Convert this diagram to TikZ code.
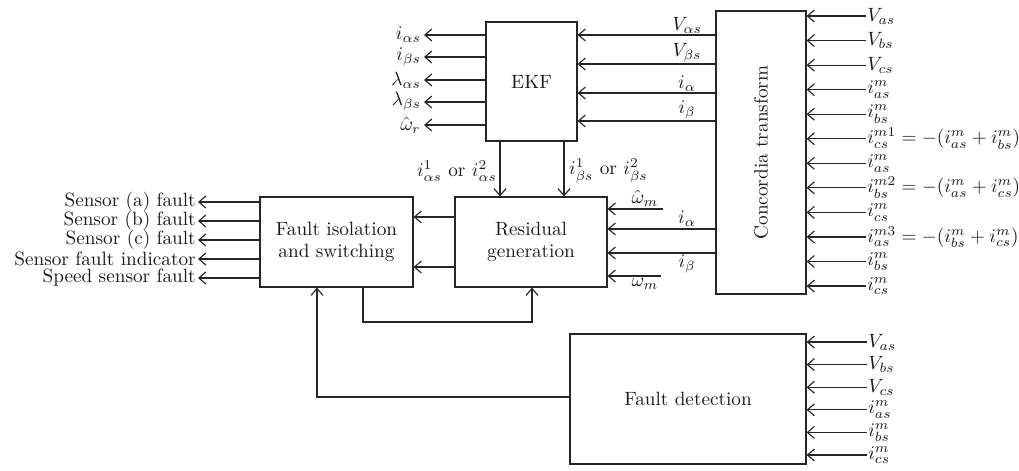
\documentclass[tikz,border=0pt]{standalone}
\usetikzlibrary{arrows.meta}
\begin{document}
\begin{tikzpicture}[x=0.52pt,y=-0.52pt,
  every node/.style={font=\fontsize{10}{11.5}\selectfont, text=black!90},
  box/.style={draw=black!85, line width=0.6pt, rectangle, align=center, inner sep=0pt},
  arr/.style={draw=black!85, -{Straight Barb[length=3.6pt,width=6.2pt,line width=0.6pt]}, line width=0.6pt}]
\useasboundingbox (0,0) rectangle (1019,470);

% boxes
\node[box, minimum width=47.32pt, minimum height=61.88pt] (ekf) at (531.5,81.5) {EKF};
\node[box, minimum width=46.8pt, minimum height=147.16pt] (cc) at (761,152.5) {};
\node[rotate=90] (cct) at (cc.center) {Concordia transform};
\node[box, minimum width=79.04pt, minimum height=46.8pt] (res) at (531,242) {Residual\\generation};
\node[box, minimum width=79.56pt, minimum height=46.8pt] (fi) at (336.5,242) {Fault isolation\\and switching};
\node[box, minimum width=122.72pt, minimum height=67.6pt] (fd) at (688,399) {Fault detection};

% EKF outputs
\foreach \y/\t [count=\k] in {35/{i_{\alpha s}}, 57/{i_{\beta s}}, 80/{\lambda_{\alpha s}}, 102/{\lambda_{\beta s}}, 125/{\hat{\omega}_r}} {
  \coordinate (eo\k) at (424,\y);
  \draw[arr] (ekf.west |- eo\k) -- (eo\k);
  \node[anchor=east, inner sep=1.5pt] (eol\k) at (eo\k) {$\t$};
}

% Concordia -> EKF
\foreach \y/\t [count=\k] in {35/{V_{\alpha s}}, 64/{V_{\beta s}}, 93/{i_{\alpha}}, 121/{i_{\beta}}} {
  \coordinate (ci\k) at (687,\y);
  \draw[arr] (cc.west |- ci\k) -- (ekf.east |- ci\k);
  \node[anchor=south, inner sep=0.8pt] (cil\k) at (ci\k) {$\t$};
}

% Concordia inputs
\foreach \t [count=\k from 0] in {V_{as}, V_{bs}, V_{cs}, i^m_{as}, i^m_{bs}, {i^{m1}_{cs} = -(i^m_{as}+i^m_{bs})}, i^m_{as}, {i^{m2}_{bs} = -(i^m_{as}+i^m_{cs})}, i^m_{cs}, {i^{m3}_{as} = -(i^m_{bs}+i^m_{cs})}, i^m_{bs}, i^m_{cs}} {
  \coordinate (cn\k) at (866,16+24.55*\k);
  \draw[arr] (cn\k) -- (cc.east |- cn\k);
  \node[anchor=west, inner xsep=0.5pt, inner ysep=0pt] (cnl\k) at (cn\k) {$\t$};
}

% EKF -> Residual
\coordinate (v1) at (500,171);
\coordinate (v2) at (564,171);
\draw[arr] (ekf.south -| v1) -- (res.north -| v1);
\draw[arr] (ekf.south -| v2) -- (res.north -| v2);
\node[anchor=east, inner sep=1.5pt] (v1l) at (v1) {$i^1_{\alpha s}$ or $i^2_{\alpha s}$};
\node[anchor=west, inner sep=2.5pt] (v2l) at (v2) {$i^1_{\beta s}$ or $i^2_{\beta s}$};

% Residual inputs
\coordinate (r1) at (663,209);
\coordinate (r1t) at (645,209);
\draw[arr] (r1) -- (res.east |- r1);
\node[anchor=south, inner sep=1pt] (r1l) at (r1t) {$\hat{\omega}_m$};
\coordinate (r2) at (687,229);
\draw[arr] (cc.west |- r2) -- (res.east |- r2);
\node[anchor=south, inner sep=1pt] (r2l) at (r2) {$i_{\alpha}$};
\coordinate (r3) at (687,253);
\draw[arr] (cc.west |- r3) -- (res.east |- r3);
\node[anchor=north, inner sep=1pt] (r3l) at (r3) {$i_{\beta}$};
\coordinate (r4) at (661,276);
\coordinate (r4t) at (645,276);
\draw[arr] (r4) -- (res.east |- r4);
\node[anchor=north, inner sep=1pt] (r4l) at (r4t) {$\omega_m$};

% Residual -> FI
\coordinate (f1) at (434,217);
\coordinate (f2) at (434,267);
\draw[arr] (res.west |- f1) -- (fi.east |- f1);
\draw[arr] (res.west |- f2) -- (fi.east |- f2);

% FI outputs
\foreach \y/\t [count=\k] in {202/{Sensor (a) fault}, 221/{Sensor (b) fault}, 240/{Sensor (c) fault}, 259/{Sensor fault indicator}, 278/{Speed sensor fault}} {
  \coordinate (fo\k) at (198,\y);
  \draw[arr] (fi.west |- fo\k) -- (fo\k);
  \node[anchor=east, inner xsep=1pt, inner ysep=0pt] (fol\k) at (fo\k) {\t};
}

% FI -> Residual loop
\coordinate (l1) at (363,322);
\coordinate (l2) at (532,322);
\draw[arr] (fi.south -| l1) -- (l1) -- (l2) -- (res.south -| l2);

% FD -> FI
\coordinate (l3) at (317,397);
\draw[arr] (fd.west |- l3) -- (l3) -- (fi.south -| l3);

% FD inputs
\foreach \t [count=\k from 0] in {V_{as}, V_{bs}, V_{cs}, i^m_{as}, i^m_{bs}, i^m_{cs}} {
  \coordinate (dn\k) at (867,342+22.6*\k);
  \draw[arr] (dn\k) -- (fd.east |- dn\k);
  \node[anchor=west, inner xsep=0.5pt, inner ysep=0pt] (dnl\k) at (dn\k) {$\t$};
}
\end{tikzpicture}
\end{document}
